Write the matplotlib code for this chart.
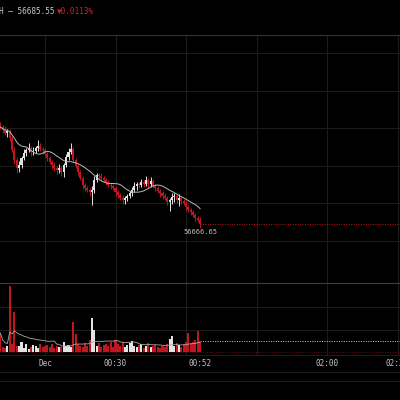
import numpy as np
import pandas as pd
import matplotlib
matplotlib.use('Agg')
import matplotlib.pyplot as plt
from matplotlib.lines import Line2D

# candle closes (1 min candles, first one at 23:41)
closes = [56821.6, 56816.8, 56812.0, 56815.2, 56804.0, 56784.8, 56768.8, 56756.0, 56760.8, 56772.0,
          56780.0, 56784.8, 56788.0, 56781.6, 56783.2, 56788.0, 56791.2, 56786.4, 56784.8, 56778.4,
          56772.0, 56765.6, 56760.8, 56756.0, 56752.8, 56756.0, 56749.6, 56760.8, 56773.6, 56781.6,
          56786.4, 56768.8, 56759.2, 56749.6, 56740.0, 56728.8, 56724.0, 56720.8, 56717.6, 56720.8,
          56736.8, 56744.8, 56743.2, 56740.0, 56736.8, 56733.6, 56728.8, 56727.2, 56724.0, 56717.6,
          56712.8, 56708.0, 56704.8, 56708.0, 56711.2, 56716.0, 56720.8, 56727.2, 56730.4, 56728.8,
          56733.6, 56730.4, 56736.8, 56730.4, 56735.2, 56727.2, 56724.0, 56719.2, 56716.0, 56711.2,
          56708.0, 56701.6, 56704.8, 56709.6, 56711.2, 56704.8, 56708.0, 56703.2, 56700.0, 56693.6,
          56688.8, 56685.6, 56680.8, 56676.0, 56672.8, 56666.65]
first_open = 56826.0
# wick extensions above / below the body (USD)
wick_up = [4, 3, 6, 3, 4, 3, 5, 3, 7, 4, 6, 3, 8, 4, 7, 3, 9, 5, 4, 3,
           3, 4, 3, 5, 3, 6, 4, 3, 5, 6, 10, 4, 3, 3, 4, 3, 3, 4, 3, 7,
           6, 4, 3, 5, 3, 3, 4, 3, 3, 4, 3, 3, 5, 3, 4, 3, 5, 6, 4, 3,
           5, 3, 6, 4, 7, 3, 3, 4, 3, 3, 5, 3, 4, 6, 5, 3, 7, 3, 3, 3,
           4, 3, 3, 4, 3, 5]
wick_dn = [3, 4, 3, 6, 4, 3, 6, 8, 7, 4, 3, 5, 3, 6, 4, 3, 5, 3, 6, 3,
           4, 3, 6, 4, 7, 5, 6, 8, 3, 4, 3, 5, 3, 4, 3, 6, 4, 3, 6, 20,
           4, 3, 6, 4, 3, 5, 3, 4, 3, 6, 4, 3, 7, 6, 4, 3, 5, 3, 6, 4,
           3, 5, 3, 7, 4, 3, 5, 3, 6, 4, 3, 5, 14, 6, 8, 4, 10, 4, 3, 5,
           3, 4, 3, 5, 3, 6]
volumes = [19, 5, 4, 6, 66, 8, 40, 6, 6, 10, 4, 8, 3, 5, 7, 6, 4, 8, 5, 6,
           7, 5, 8, 4, 6, 5, 5, 10, 6, 7, 5, 30, 18, 8, 6, 5, 9, 6, 12, 34,
           22, 6, 9, 5, 7, 8, 6, 10, 5, 12, 8, 6, 10, 5, 7, 9, 11, 6, 5, 7,
           8, 4, 6, 9, 5, 6, 7, 5, 4, 6, 5, 8, 13, 16, 6, 9, 7, 5, 8, 10,
           19, 9, 10, 12, 21, 11]

tick_pos = [0, 30, 66, 120, 150]
tick_txt = ['Dec', '00:30', '00:52', '02:00', '02:30']
grid_min = [0, 30, 60, 90, 120, 150]
price_ticks = [56640, 56700, 56760, 56820, 56880, 56940]

title_txt = 'H \u2014 56685.55'
change_txt = '\u25bc0.0113%'
last_label = '56666.65'

RED = '#bf1620'
WHITE = '#e2e2e2'
GRID = '#1c1c1c'
BORDER = '#333333'
MONO = ['DejaVu Sans Mono', 'DejaVu Sans']

df = pd.DataFrame({'close': closes, 'vol': volumes})
df['open'] = df['close'].shift(1).fillna(first_open)
df['high'] = df[['open', 'close']].max(axis=1) + wick_up
df['low'] = df[['open', 'close']].min(axis=1) - wick_dn
df['t'] = np.arange(len(df)) - 19
df['ma'] = df['close'].rolling(12, min_periods=1).mean()
df['vma'] = df['vol'].rolling(20, min_periods=1).mean()
up = df['close'] >= df['open']
colors = np.where(up, WHITE, RED)

fig = plt.figure(figsize=(4, 4), dpi=100, facecolor='black')
ax = fig.add_axes([0, 1 - 283 / 400, 1, 248 / 400])
axv = fig.add_axes([0, 1 - 355 / 400, 1, 72 / 400])

for a in (ax, axv):
    a.set_facecolor('black')
    a.set_xlim(-19.15, 151.06)
    for s in a.spines.values():
        s.set_visible(False)
    a.tick_params(left=False, bottom=False, labelleft=False, labelbottom=False)
    for m in grid_min:
        a.axvline(m, color=GRID, lw=0.8, zorder=0)

ax.set_ylim(56572.0, 56968.8)
ax.set_yticks(price_ticks)
ax.yaxis.grid(True, color=GRID, lw=0.8)
ax.set_axisbelow(True)

# candles
ax.vlines(df['t'], df['low'], df['high'], colors=colors, lw=0.7, zorder=2)
body = (df['close'] - df['open']).abs().clip(lower=1.2)
ax.bar(df['t'], body, width=0.88, bottom=df[['open', 'close']].min(axis=1),
       color=colors, linewidth=0, zorder=3)
ax.plot(df['t'], df['ma'], color='#b8b8b8', lw=0.7, zorder=4)
last_t = df['t'].iloc[-1]
last_c = df['close'].iloc[-1]
ax.plot([last_t, 151.06], [last_c, last_c], color=RED, lw=0.7, ls=(0, (1, 1.5)), zorder=1)
ax.text(last_t, df['low'].iloc[-1] - 3, last_label, color='#bdbdbd', fontsize=5,
        family=MONO, ha='center', va='top')

# volume
axv.set_ylim(-3, 69)
axv.set_yticks([22.5, 45])
axv.yaxis.grid(True, color=GRID, lw=0.8)
axv.set_axisbelow(True)
axv.axhline(0, color='#4a0c0f', lw=0.8, ls=(0, (1, 1)), zorder=1)
axv.bar(df['t'], df['vol'], width=0.88, color=colors, linewidth=0, zorder=3)
axv.plot(df['t'], df['vma'], color='#a8a8a8', lw=0.6, zorder=4)
axv.plot([last_t, 151.06], [df['vol'].iloc[-1]] * 2, color='#cfcfcf', lw=0.7,
         ls=(0, (1, 1.5)), zorder=1)

for p, lab in zip(tick_pos, tick_txt):
    axv.text(p, -0.12, lab, transform=axv.get_xaxis_transform(), color='#c4c4c4',
             fontsize=5.5, family=MONO, ha='center', va='center')

# frame lines
for yy, c in [(35, BORDER), (283, '#3e3e3e'), (355, GRID), (372, GRID), (381, GRID)]:
    fig.add_artist(Line2D([0, 1], [1 - yy / 400] * 2, color=c, lw=0.8))

fig.text(-1 / 400, 1 - 11 / 400, title_txt, color='#c8c8c8', fontsize=5.6, family=MONO,
         ha='left', va='center')
fig.text(57 / 400, 1 - 11 / 400, change_txt, color='#d0202a', fontsize=5.6, family=MONO,
         ha='left', va='center')

fig.savefig('out.png', dpi=100, facecolor='black')
